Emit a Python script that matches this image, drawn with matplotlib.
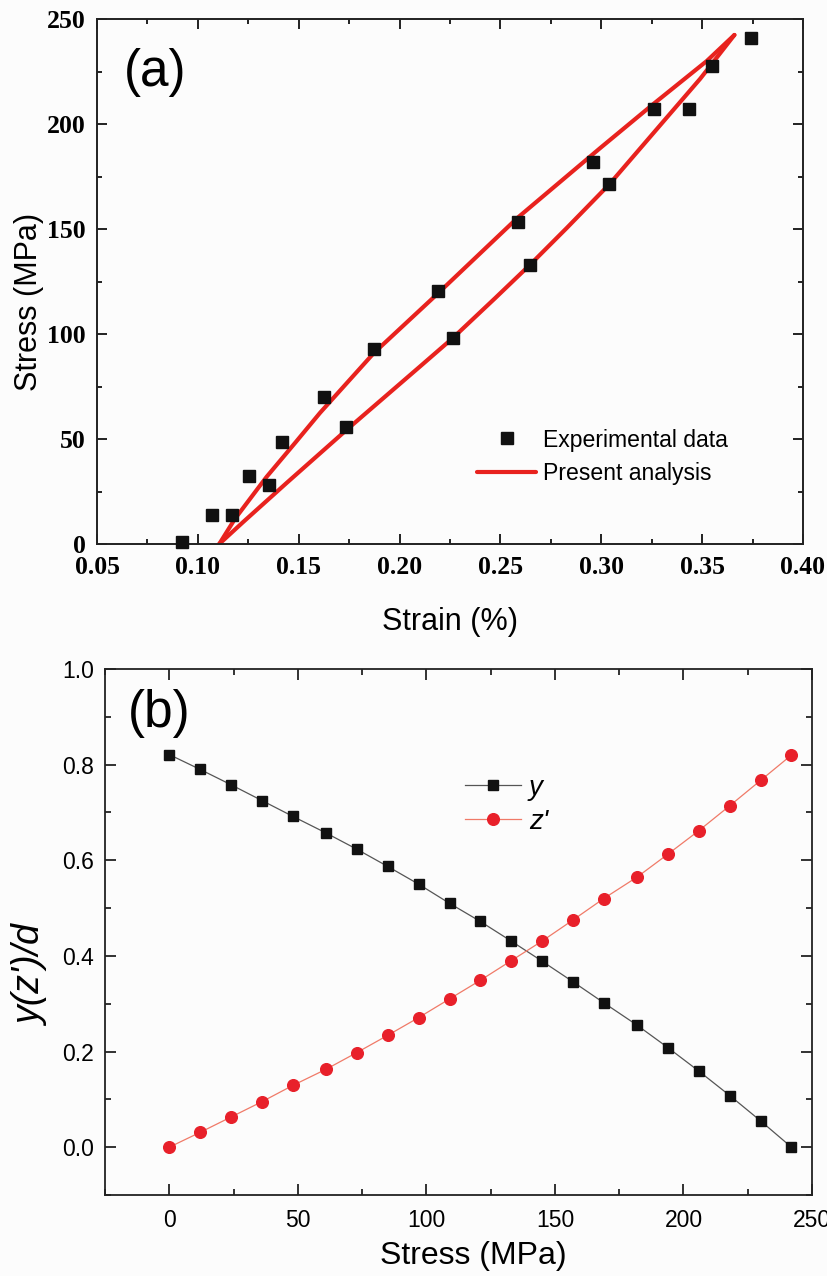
import matplotlib
matplotlib.use("Agg")
import matplotlib.pyplot as plt
from matplotlib.ticker import MultipleLocator, FormatStrFormatter

# ---------------- data (a) ----------------
exp_strain = [0.092, 0.107, 0.117, 0.1255, 0.1354, 0.1416, 0.1625, 0.1733, 0.1873,
              0.2192, 0.2263, 0.2587, 0.2647, 0.2958, 0.3040, 0.3263, 0.3434, 0.3548, 0.3742]
exp_stress = [1, 13.7, 13.7, 32.2, 28, 48.6, 69.8, 55.7, 92.7,
              120.6, 98.2, 153.5, 132.9, 181.8, 171.3, 207, 207, 227.6, 241.1]

upper_strain = [0.1106, 0.1184, 0.1341, 0.1486, 0.1606, 0.1873, 0.2192, 0.2587, 0.2994,
                0.3258, 0.3523, 0.366]
upper_stress = [0, 12, 32, 48.6, 62.5, 91, 119.5, 155.5, 188.5, 209.5, 230, 242.4]
lower_strain = [0.1106, 0.1225, 0.1445, 0.1733, 0.2101, 0.2263, 0.2473, 0.2647, 0.2829,
                0.3040, 0.3324, 0.3490, 0.366]
lower_stress = [0, 10.5, 29.5, 54, 84.5, 98, 117, 133, 150.5, 171.3, 203, 221.5, 242.4]

# ---------------- data (b) ----------------
stress_b = [0, 12, 24, 36, 48, 61, 73, 85, 97, 109, 121, 133, 145, 157, 169, 182, 194, 206, 218, 230, 242]
y_vals = [0.821, 0.790, 0.758, 0.725, 0.692, 0.657, 0.623, 0.587, 0.550, 0.510, 0.472, 0.431,
          0.389, 0.346, 0.302, 0.255, 0.208, 0.159, 0.108, 0.055, 0.0]
z_vals = [0.0, 0.031, 0.063, 0.095, 0.129, 0.163, 0.198, 0.234, 0.271, 0.310, 0.349, 0.390,
          0.431, 0.475, 0.520, 0.565, 0.613, 0.662, 0.714, 0.767, 0.820]

RED = "#e8221e"
BG = "#fcfcfc"
SANS = ["Liberation Sans", "DejaVu Sans"]
SERIF = ["Liberation Serif", "DejaVu Serif"]

fig = plt.figure(figsize=(8.27, 12.76), dpi=100, facecolor=BG)

def style_axes(ax, spine_w, maj_len, min_len):
    ax.set_facecolor(BG)
    for s in ax.spines.values():
        s.set_linewidth(spine_w)
        s.set_color("#222222")
    ax.tick_params(which="both", direction="in", top=True, right=True,
                   width=spine_w, color="#222222")
    ax.tick_params(which="major", length=maj_len)
    ax.tick_params(which="minor", length=min_len)

# ---------------- panel (a) ----------------
axa = fig.add_axes([97/827, 1-544/1276, 706/827, 525/1276])
style_axes(axa, 1.4, 7.5, 3.8)
axa.plot(upper_strain, upper_stress, color=RED, lw=3.0, solid_capstyle="round",
         solid_joinstyle="round", label="Present analysis", zorder=2)
axa.plot(lower_strain, lower_stress, color=RED, lw=3.0, solid_capstyle="round",
         solid_joinstyle="round", zorder=2)
axa.plot(exp_strain, exp_stress, "s", color="#111111", ms=8.5, ls="none",
         label="Experimental data", zorder=3, clip_on=False)
axa.set_xlim(0.05, 0.40)
axa.set_ylim(0, 250)
axa.xaxis.set_major_locator(MultipleLocator(0.05))
axa.xaxis.set_minor_locator(MultipleLocator(0.025))
axa.yaxis.set_major_locator(MultipleLocator(50))
axa.yaxis.set_minor_locator(MultipleLocator(25))
axa.xaxis.set_major_formatter(FormatStrFormatter("%.2f"))
for lab in axa.get_xticklabels() + axa.get_yticklabels():
    lab.set_fontfamily(SERIF)
    lab.set_fontweight("bold")
    lab.set_fontsize(18.5)
axa.tick_params(axis="x", which="major", pad=9)
axa.tick_params(axis="y", which="major", pad=8)
axa.set_xlabel("Strain (%)", fontsize=22, family=SANS, va="center")
axa.xaxis.set_label_coords(0.5, (544-622)/525)
axa.set_ylabel("Stress (MPa)", fontsize=22, family=SANS, va="center")
axa.yaxis.set_label_coords((29-97)/706, (544-302)/525)
axa.text((124-97)/706, (544-72.5)/525, "(a)", transform=axa.transAxes,
         fontsize=37, family=SANS, ha="left", va="center")
h, l = axa.get_legend_handles_labels()
leg = axa.legend([h[1], h[0]], [l[1], l[0]], loc="center left",
                 bbox_to_anchor=((477-97)/706, (544-456.7)/525),
                 frameon=False, borderpad=0, borderaxespad=0, handlelength=2.56,
                 handletextpad=0.3, labelspacing=0.45, numpoints=1,
                 prop={"family": SANS, "size": 16.6})

# ---------------- panel (b) ----------------
axb = fig.add_axes([105/827, 1-1195/1276, 707/827, 526/1276])
style_axes(axb, 1.3, 8.2, 4.3)
axb.plot(stress_b, y_vals, "-s", color="#555555", lw=0.9, ms=7.4, mfc="#111111",
         mec="#111111", label="y", zorder=3)
axb.plot(stress_b, z_vals, "-o", color="#f07a68", lw=0.9, ms=8.4, mfc="#e8202a",
         mec="#e8202a", label="z'", zorder=3)
axb.set_xlim(-25, 250)
axb.set_ylim(-0.1, 1.0)
axb.xaxis.set_minor_locator(MultipleLocator(25))
axb.yaxis.set_minor_locator(MultipleLocator(0.1))
axb.set_xticks([0, 50, 100, 150, 200, 250])
axb.set_yticks([0.0, 0.2, 0.4, 0.6, 0.8, 1.0])
axb.yaxis.set_major_formatter(FormatStrFormatter("%.1f"))
for lab in axb.get_xticklabels() + axb.get_yticklabels():
    lab.set_fontfamily(SANS)
    lab.set_fontsize(16.5)
axb.tick_params(axis="x", which="major", pad=10)
axb.tick_params(axis="y", which="major", pad=8)
axb.set_xlabel("Stress (MPa)", fontsize=23, family=SANS, va="center")
axb.xaxis.set_label_coords((473.5-105)/707, (1195-1256)/526)
axb.set_ylabel("y(z')/d", fontsize=27, family=SANS, style="italic", va="center")
axb.yaxis.set_label_coords((31.5-105)/707, (1195-976)/526)
axb.text((128-105)/707, (1195-714)/526, "(b)", transform=axb.transAxes,
         fontsize=37, family=SANS, ha="left", va="center")
legb = axb.legend(loc="center left", bbox_to_anchor=((465-105)/707, (1195-805)/526),
                  frameon=False, borderpad=0, borderaxespad=0, handlelength=2.0,
                  handletextpad=0.3, labelspacing=0.3, numpoints=1,
                  prop={"family": SANS, "size": 20, "style": "italic"})

fig.savefig("out.png", dpi=100, facecolor=BG)
